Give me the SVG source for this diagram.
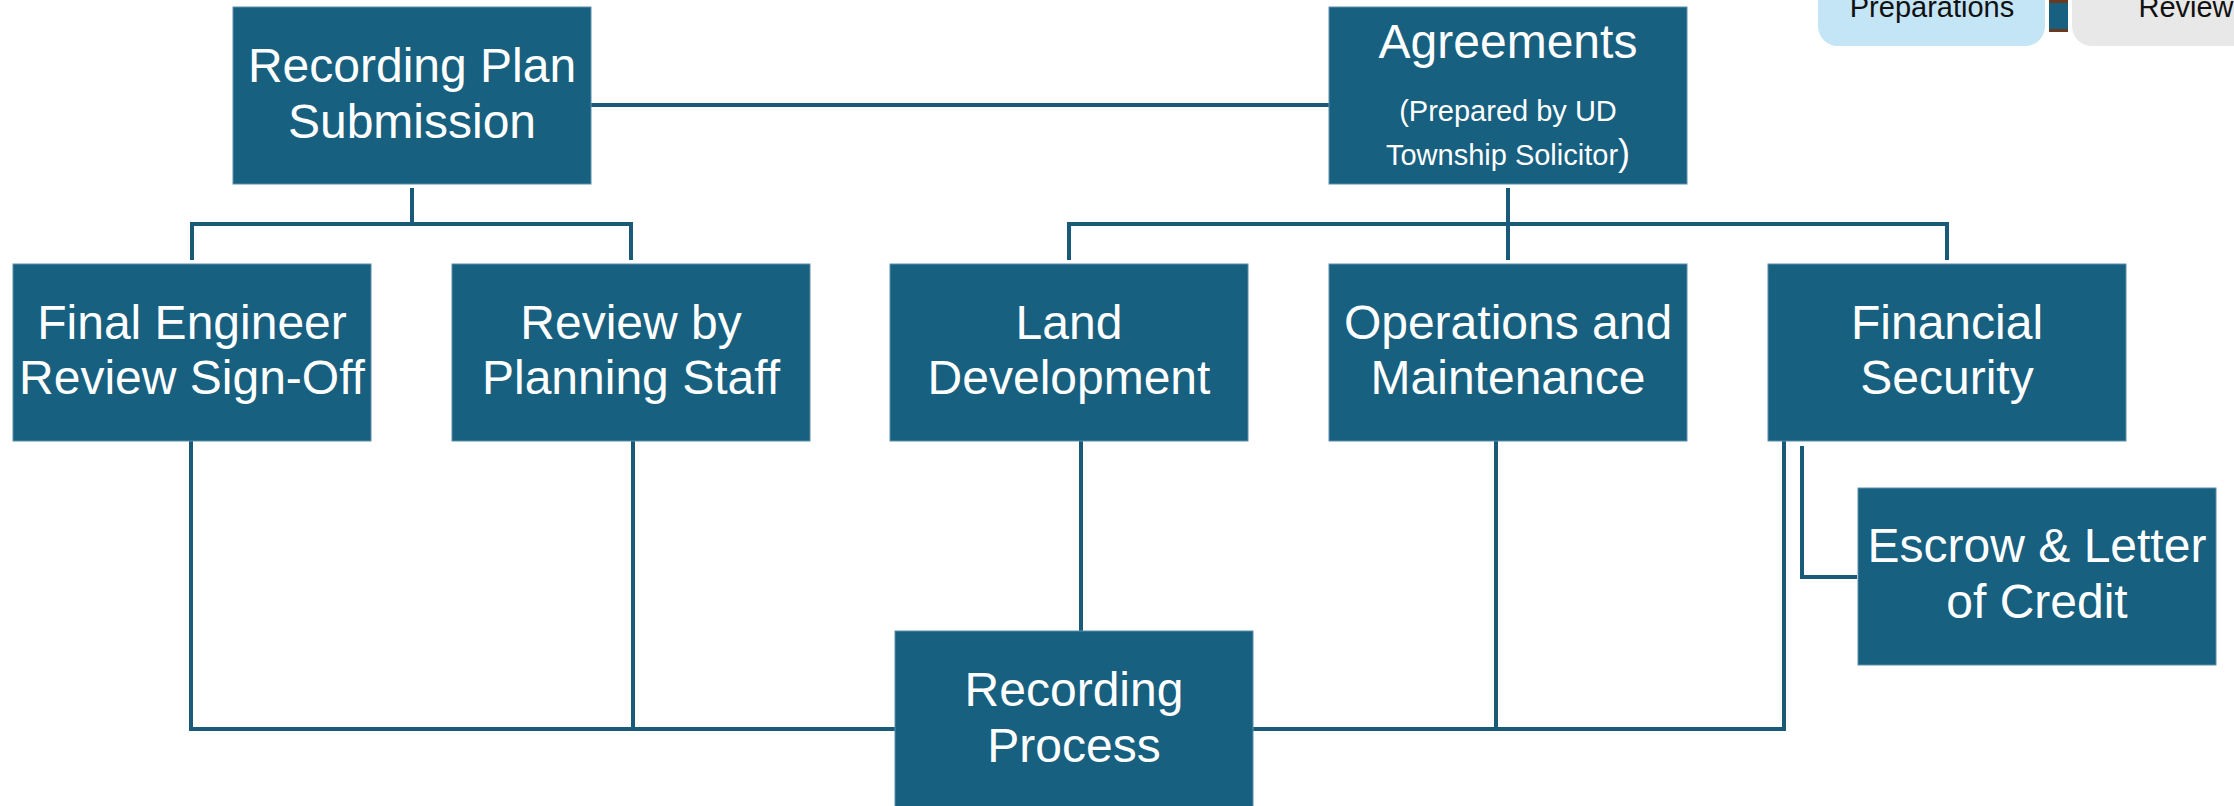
<svg xmlns="http://www.w3.org/2000/svg" width="2234" height="806" viewBox="0 0 2234 806">
<style>
.box{fill:#17607F;stroke:#5A8EAB;stroke-width:1}
.t{font-family:"Liberation Sans",Arial,sans-serif;fill:#FFFFFF;font-size:48px;text-anchor:middle}
.s{font-family:"Liberation Sans",Arial,sans-serif;fill:#FFFFFF;font-size:29px;text-anchor:middle}
.c{fill:none;stroke:#195A79;stroke-width:4;stroke-linejoin:miter;stroke-linecap:butt}
.lg{font-family:"Liberation Sans",Arial,sans-serif;fill:#111111;font-size:29px;text-anchor:middle}
</style>
<rect width="2234" height="806" fill="#FFFFFF"/>
<g id="connectors">
<path class="c" d="M591 105 H1329"/>
<path class="c" d="M412 188 V224"/>
<path class="c" d="M192 260 V224 H631 V260"/>
<path class="c" d="M1508 188 V260"/>
<path class="c" d="M1069 260 V224 H1947 V260"/>
<path class="c" d="M191 441 V729 H895"/>
<path class="c" d="M633 441 V729"/>
<path class="c" d="M1081 441 V631"/>
<path class="c" d="M1253 729 H1784 V441"/>
<path class="c" d="M1496 441 V729"/>
<path class="c" d="M1802 446 V577 H1857"/>
</g>
<g id="legend">
<path d="M1818 -2 H2045 V26 A20 20 0 0 1 2025 46 H1838 A20 20 0 0 1 1818 26 Z" fill="#C3E5F5"/>
<text class="lg" x="1932" y="17">Preparations</text>
<rect x="2049" y="0" width="19" height="32" fill="#6B3A1E"/>
<rect x="2049" y="3" width="19" height="26" fill="#17607F"/>
<path d="M2072 -2 H2240 V46 H2092 A20 20 0 0 1 2072 26 Z" fill="#E8E8E8"/>
<text class="lg" x="2186" y="17">Review</text>
</g>
<g id="recording-plan-submission">
<rect class="box" x="233" y="7" width="358" height="177"/>
<text class="t" x="412" y="82">Recording Plan</text>
<text class="t" x="412" y="138">Submission</text>
</g>
<g id="agreements">
<rect class="box" x="1329" y="7" width="358" height="177"/>
<text class="t" x="1508" y="58">Agreements</text>
<text class="s" x="1508" y="121">(Prepared by UD</text>
<text class="s" x="1508" y="165">Township Solicitor<tspan font-size="36px">)</tspan></text>
</g>
<g id="final-engineer-review">
<rect class="box" x="13" y="264" width="358" height="177"/>
<text class="t" x="192" y="339">Final Engineer</text>
<text class="t" x="192" y="394">Review Sign-Off</text>
</g>
<g id="review-by-planning-staff">
<rect class="box" x="452" y="264" width="358" height="177"/>
<text class="t" x="631" y="339">Review by</text>
<text class="t" x="631" y="394">Planning Staff</text>
</g>
<g id="land-development">
<rect class="box" x="890" y="264" width="358" height="177"/>
<text class="t" x="1069" y="339">Land</text>
<text class="t" x="1069" y="394">Development</text>
</g>
<g id="operations-and-maintenance">
<rect class="box" x="1329" y="264" width="358" height="177"/>
<text class="t" x="1508" y="339">Operations and</text>
<text class="t" x="1508" y="394">Maintenance</text>
</g>
<g id="financial-security">
<rect class="box" x="1768" y="264" width="358" height="177"/>
<text class="t" x="1947" y="339">Financial</text>
<text class="t" x="1947" y="394">Security</text>
</g>
<g id="escrow-letter-of-credit">
<rect class="box" x="1858" y="488" width="358" height="177"/>
<text class="t" x="2037" y="562">Escrow &amp; Letter</text>
<text class="t" x="2037" y="618">of Credit</text>
</g>
<g id="recording-process">
<rect class="box" x="895" y="631" width="358" height="180"/>
<text class="t" x="1074" y="706">Recording</text>
<text class="t" x="1074" y="762">Process</text>
</g>
</svg>
